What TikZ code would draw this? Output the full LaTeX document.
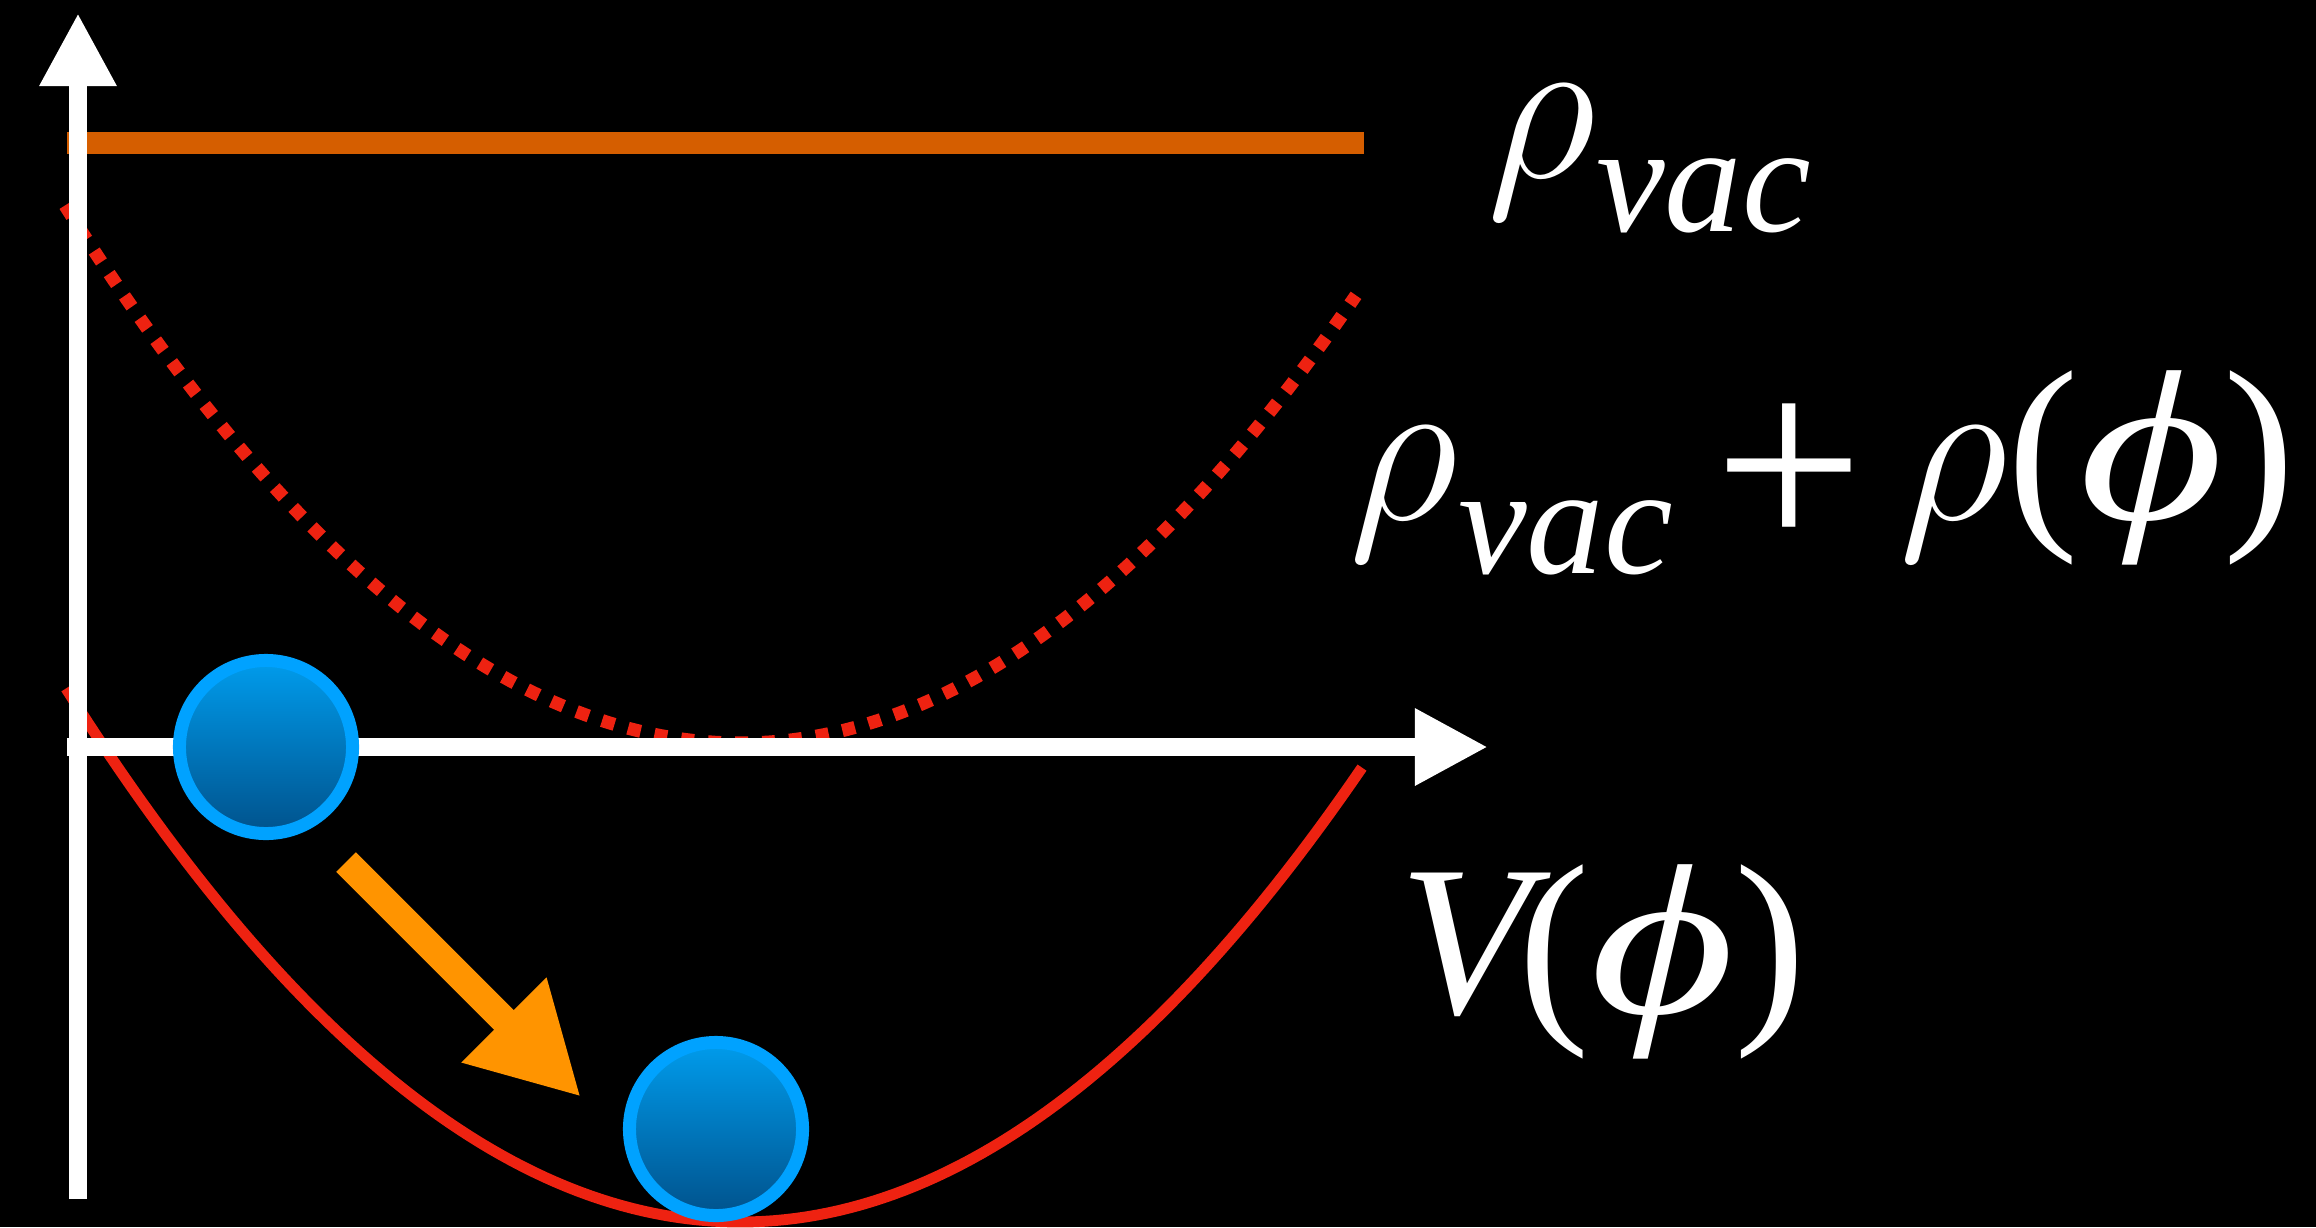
\RequirePackage{fix-cm}
\documentclass[tikz,border=0pt]{standalone}
\usepackage{fontspec}
\setmainfont{Liberation Serif}
\usepackage{graphicx}
\usetikzlibrary{arrows.meta}

\definecolor{curvered}{RGB}{238,34,17}
\definecolor{vacorange}{RGB}{213,94,0}
\definecolor{rollorange}{RGB}{255,148,0}
\definecolor{balledge}{RGB}{0,162,255}
\definecolor{balltop}{RGB}{0,156,236}
\definecolor{ballbottom}{RGB}{0,82,140}

\newcommand{\vacsub}[1]{\raisebox{-15.6pt}{\fontsize{44}{44}\selectfont\itshape #1}}
\newcommand{\bigplus}{\raisebox{-9.7pt}{\scalebox{1.235}{+}}}
\newcommand{\phisym}{\scalebox{1.3}[1]{\itshape ϕ}}

\begin{document}
\begin{tikzpicture}[
    x=0.01cm, y=-0.01cm,
    axis/.style={draw=white, line width=5.3pt, -{Triangle[length=0.73cm, width=0.72cm]}},
    vacline/.style={draw=vacorange, line width=6.5pt},
    potential/.style={draw=curvered, line width=3.1pt},
    dotcurve/.style={draw=curvered, line width=3.7pt, dash pattern=on 3.7pt off 4pt},
    rollarrow/.style={draw=rollorange, line width=7.85pt, -{Triangle[length=1.09cm, width=1.12cm]}},
    ball/.style={circle, draw=balledge, line width=3.7pt, top color=balltop, bottom color=ballbottom, minimum size=1.73cm, inner sep=0pt},
    formula/.style={text=white, anchor=base west, inner sep=0pt, font=\fontsize{61}{61}\selectfont}
]

% Canvas
\useasboundingbox (0,0) rectangle (2316,1227);
\fill[black] (0,0) rectangle (2316,1227);

% Vacuum energy level
\coordinate (vacL) at (67,143);
\coordinate (vacR) at (1364,143);
\draw [vacline] (vacL) -- (vacR);

% Shifted potential (dotted) and V(phi)
\draw [dotcurve] plot[domain=65:1356, samples=120] (\x, {743-(0.03435*(\x-740))^2});
\draw [potential] plot[domain=66:1362, samples=120] (\x, {1222-(0.034278*(\x-740))^2});

% Axes
\coordinate (ybot) at (78,1199);
\coordinate (ytop) at (78,13);
\coordinate (xleft) at (67,747);
\coordinate (xright) at (1488,747);
\draw [axis] (ybot) -- (ytop);
\draw [axis] (xleft) -- (xright);

% Rolling field
\node [ball] (start) at (266,747) {};
\node [ball] (vacuum) at (716,1129) {};
\coordinate (rollfrom) at (346,862);
\coordinate (rollto) at (581,1097);
\draw [rollarrow] (rollfrom) -- (rollto);

% Labels
\node [formula] (rhovac) at (1487,177) {$\rho$\vacsub{vac}};
\node [formula] (rhosum) at (1349,519) {$\rho$\vacsub{vac}\hspace{12pt}\bigplus\hspace{10pt}$\rho$(\phisym)};
\node [formula] (vphi) at (1399,1013) {{\itshape V}\kern-3.4pt(\phisym)};

\end{tikzpicture}
\end{document}
